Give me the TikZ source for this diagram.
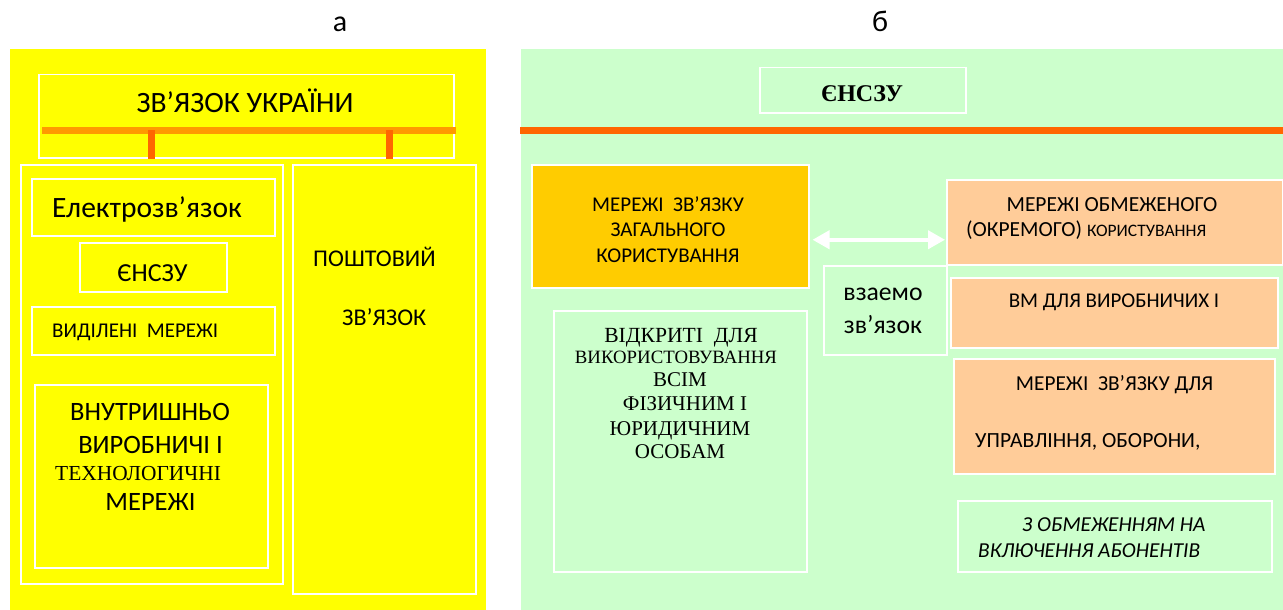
\documentclass[tikz,border=0pt]{standalone}
\usepackage{fontspec}
\setmainfont{Carlito}
\newfontfamily\seriffont{Liberation Serif}
\usetikzlibrary{arrows.meta}

\definecolor{panelyellow}{HTML}{FFFF00}
\definecolor{panelgreen}{HTML}{CCFFCC}
\definecolor{boxgold}{HTML}{FFCC00}
\definecolor{boxpeach}{HTML}{FFCC99}
\definecolor{barorange}{HTML}{FF9900}
\definecolor{stuborange}{HTML}{FF6600}

\tikzset{
  wbox/.style={draw=white, line width=1.5pt, inner sep=0pt, anchor=north west},
  txt/.style={anchor=base, inner sep=0pt},
  ltxt/.style={anchor=base west, inner sep=0pt},
  bar/.style={line width=7pt},
  dblarrow/.style={draw=white, line width=4pt,
    {Triangle[width=18pt,length=17pt]}-{Triangle[width=18pt,length=17pt]}}
}

\begin{document}
\begin{tikzpicture}[x=1pt,y=-1pt]
\useasboundingbox (0,0) rectangle (1283,610);
\fill[white] (0,0) rectangle (1283,610);
% Drawing panel labels
\node[txt, font=\fontsize{30}{30}\selectfont] (lbla) at (340,32) {а};
\node[txt, font=\fontsize{30}{30}\selectfont] (lblb) at (880,32) {б};
% Panel a
\fill[panelyellow] (10,49) rectangle (486,610);
\node[wbox, minimum width=415pt, minimum height=83pt] (zvu) at (38,74) {};
\node[txt, font=\fontsize{29.5}{29.5}\selectfont] at (245,113) {ЗВ’ЯЗОК УКРАЇНИ};
\coordinate (bar) at (42,130);
\draw[bar, barorange] (bar) -- (456,130);
\node[wbox, minimum width=262pt, minimum height=419pt] (grp) at (20,164) {};
\node[wbox, minimum width=183pt, minimum height=429pt] (post) at (292,164) {};
% Stubs from bar down to the two groups
\draw[bar, stuborange] (grp.north |- bar) -- ([yshift=5pt]grp.north);
\draw[bar, stuborange] ([xshift=5.5pt]post.north |- bar) -- ([xshift=5.5pt,yshift=5pt]post.north);
% Inner boxes of the left group
\node[wbox, minimum width=243pt, minimum height=57pt] (elec) at (31,178) {};
\node[ltxt, font=\fontsize{29.5}{29.5}\selectfont] at (52,217) {Електрозв’язок};
\node[wbox, minimum width=147pt, minimum height=49pt] (ensz) at (79,242) {};
\node[txt, font=\fontsize{26}{26}\selectfont] at (152.5,281) {ЄНСЗУ};
\node[wbox, minimum width=243pt, minimum height=48pt] (vyd) at (31,306) {};
\node[ltxt, font=\fontsize{21}{21}\selectfont] at (52,337) {ВИДІЛЕНІ\ \ МЕРЕЖІ};
\node[wbox, minimum width=233pt, minimum height=183pt] (vnut) at (34,384) {};
\node[txt, font=\fontsize{26.5}{26.5}\selectfont] at (150,420) {ВНУТРИШНЬО};
\node[txt, font=\fontsize{26.5}{26.5}\selectfont] at (150.5,453) {ВИРОБНИЧІ І};
\node[ltxt, font=\seriffont\fontsize{21.4}{21.4}\selectfont] at (55,480) {ТЕХНОЛОГИЧНІ};
\node[txt, font=\fontsize{26.5}{26.5}\selectfont] at (150.5,510) {МЕРЕЖІ};
% Post box texts
\node[ltxt, font=\fontsize{24}{24}\selectfont] at (313,266) {ПОШТОВИЙ};
\node[ltxt, font=\fontsize{24}{24}\selectfont] at (342,325) {ЗВ’ЯЗОК};
% Panel b
\fill[panelgreen] (521,49) rectangle (1283,610);
\node[wbox, minimum width=206pt, minimum height=45pt] (rensz) at (759,67) {};
\node[txt, font=\seriffont\bfseries\fontsize{24}{24}\selectfont] at (862,101) {ЄНСЗУ};
\draw[bar, stuborange] (520,130) -- (1283,130);
% Public networks
\node[wbox, fill=boxgold, minimum width=277pt, minimum height=123pt] (gold) at (531,164) {};
\node[txt, font=\fontsize{21}{21}\selectfont] at (668,211) {МЕРЕЖІ\ \ ЗВ’ЯЗКУ};
\node[txt, font=\fontsize{21}{21}\selectfont] at (668,236) {ЗАГАЛЬНОГО};
\node[txt, font=\fontsize{21}{21}\selectfont] at (668,262) {КОРИСТУВАННЯ};
\node[wbox, minimum width=253pt, minimum height=261pt] (vidk) at (553,310) {};
\node[txt, font=\seriffont\fontsize{21.6}{21.6}\selectfont] at (681,342) {ВІДКРИТІ\ \ ДЛЯ};
\node[txt, font=\seriffont\fontsize{18.8}{18.8}\selectfont] at (676,363) {ВИКОРИСТОВУВАННЯ};
\node[txt, font=\seriffont\fontsize{21}{21}\selectfont] at (680,386) {ВСІМ};
\node[txt, font=\seriffont\fontsize{21}{21}\selectfont] at (685,410) {ФІЗИЧНИМ І};
\node[txt, font=\seriffont\fontsize{21}{21}\selectfont] at (680,435) {ЮРИДИЧНИМ};
\node[txt, font=\seriffont\fontsize{21}{21}\selectfont] at (680,458) {ОСОБАМ};
% Restricted networks
\node[wbox, fill=boxpeach, minimum width=336pt, minimum height=85pt] (pk1) at (946,179) {};
\node[txt, font=\fontsize{21.5}{21.5}\selectfont] at (1112,211) {МЕРЕЖІ ОБМЕЖЕНОГО};
\node[ltxt, font=\fontsize{21.5}{21.5}\selectfont] at (966,236) {(ОКРЕМОГО) {\fontsize{17.5}{17.5}\selectfont КОРИСТУВАННЯ}};
\node[wbox, fill=panelgreen, minimum width=123pt, minimum height=89pt] (vz) at (823,265) {};
\node[txt, font=\fontsize{25.7}{25.7}\selectfont] at (883,300) {взаемо};
\node[txt, font=\fontsize{25.7}{25.7}\selectfont] at (883,333) {зв’язок};
\node[wbox, fill=boxpeach, minimum width=327pt, minimum height=70pt] (pk2) at (950,277) {};
\node[txt, font=\fontsize{21}{21}\selectfont] at (1114,307) {ВМ ДЛЯ ВИРОБНИЧИХ І};
\node[wbox, fill=boxpeach, minimum width=321pt, minimum height=115pt] (pk3) at (953,358) {};
\node[txt, font=\fontsize{21.3}{21.3}\selectfont] at (1114.5,390) {МЕРЕЖІ\ \ ЗВ’ЯЗКУ ДЛЯ};
\node[ltxt, font=\fontsize{21.6}{21.6}\selectfont] at (975,447) {УПРАВЛІННЯ, ОБОРОНИ,};
\node[wbox, minimum width=314pt, minimum height=71pt] (ital) at (957,500) {};
\node[ltxt, font=\itshape\fontsize{21.3}{21.3}\selectfont] at (1022,531) {З ОБМЕЖЕННЯМ НА};
\node[ltxt, font=\itshape\fontsize{21.3}{21.3}\selectfont] at (978,557) {ВКЛЮЧЕННЯ АБОНЕНТІВ};
% Arrow between public and restricted networks
\draw[dblarrow] ([xshift=3pt,yshift=-13.5pt]gold.east) -- ([xshift=-1pt,yshift=-17.5pt]pk1.west);
\end{tikzpicture}
\end{document}
